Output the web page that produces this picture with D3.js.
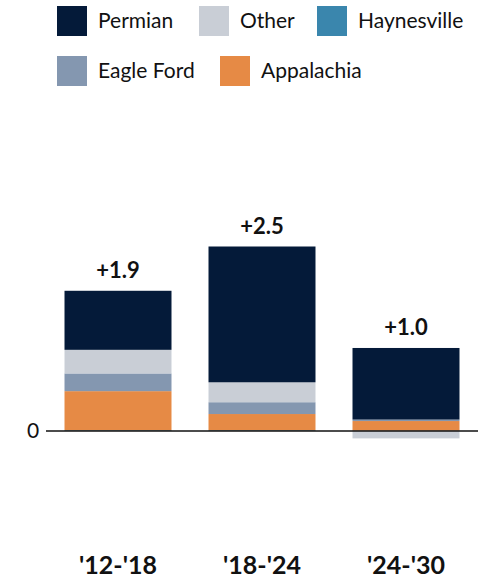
<!DOCTYPE html>
<html>
<head>
<meta charset="utf-8">
<script src="https://cdn.jsdelivr.net/npm/d3@7"></script>
<style>
  html, body { margin: 0; padding: 0; background: #fff; }
  svg { display: block; font-family: Lato, "Open Sans", sans-serif; }
</style>
</head>
<body>
<svg id="chart" width="487" height="580"></svg>
<script>
// ---- Data ----
const categories = ["'12-'18", "'18-'24", "'24-'30"];
const seriesNames = ["Haynesville", "Appalachia", "Eagle Ford", "Other", "Permian"];
const haynesville = [0.01, 0.01, 0.005];
const appalachia  = [0.53, 0.22, 0.13];
const eagleFord   = [0.24, 0.16, 0.02];
const other       = [0.32, 0.27, -0.10];
const permian     = [0.80, 1.84, 0.97];
const totalLabels = ["+1.9", "+2.5", "+1.0"];
const legendOrder = [["Permian", "Other", "Haynesville"], ["Eagle Ford", "Appalachia"]];
const colors = {
  "Permian": "#041a39",
  "Other": "#c9ced6",
  "Haynesville": "#3a86ad",
  "Eagle Ford": "#8497b0",
  "Appalachia": "#e68a45"
};

const table = categories.map((c, i) => ({
  cat: c,
  "Haynesville": haynesville[i],
  "Appalachia": appalachia[i],
  "Eagle Ford": eagleFord[i],
  "Other": other[i],
  "Permian": permian[i]
}));

const svg = d3.select("#chart");

const x = d3.scaleBand().domain(categories).range([46, 478]).paddingInner(0.257).paddingOuter(0.1285);
const y = d3.scaleLinear().domain([0, 2.5]).range([431, 431 - 2.5 * 73.8]);

const stack = d3.stack().keys(seriesNames).offset(d3.stackOffsetDiverging);
const series = stack(table);

svg.append("g").selectAll("g")
  .data(series).join("g")
  .attr("fill", d => colors[d.key])
  .selectAll("rect")
  .data(d => d).join("rect")
  .attr("x", d => x(d.data.cat))
  .attr("width", x.bandwidth())
  .attr("y", d => y(Math.max(d[0], d[1])))
  .attr("height", d => Math.abs(y(d[0]) - y(d[1])));

// zero line
svg.append("line")
  .attr("x1", 46).attr("x2", 478)
  .attr("y1", y(0)).attr("y2", y(0))
  .attr("stroke", "#111").attr("stroke-width", 1.5);

svg.append("text")
  .attr("x", 33).attr("y", y(0))
  .attr("dy", "0.35em")
  .attr("text-anchor", "middle")
  .attr("font-size", 21)
  .attr("fill", "#111")
  .text("0");

// totals
const posTop = table.map(d => seriesNames.reduce((s, k) => s + Math.max(0, d[k]), 0));
svg.append("g").selectAll("text")
  .data(categories).join("text")
  .attr("x", d => x(d) + x.bandwidth() / 2)
  .attr("y", (d, i) => y(posTop[i]) - 13)
  .attr("text-anchor", "middle")
  .attr("font-size", 22)
  .attr("font-weight", "bold")
  .attr("fill", "#111")
  .text((d, i) => totalLabels[i]);

// category labels
svg.append("g").selectAll("text")
  .data(categories).join("text")
  .attr("x", d => x(d) + x.bandwidth() / 2)
  .attr("y", 574)
  .attr("text-anchor", "middle")
  .attr("font-size", 25)
  .attr("font-weight", "bold")
  .attr("fill", "#111")
  .text(d => d);

// legend
const legendX = [[57, 199, 317], [57, 220]];
const legendY = [6, 56];
legendOrder.forEach((row, r) => {
  row.forEach((name, j) => {
    const g = svg.append("g").attr("transform", `translate(${legendX[r][j]},${legendY[r]})`);
    g.append("rect").attr("width", 30).attr("height", 30).attr("fill", colors[name]);
    g.append("text").attr("x", 41).attr("y", 15).attr("dy", "0.35em")
      .attr("font-size", 21).attr("fill", "#111").text(name);
  });
});
</script>
</body>
</html>
